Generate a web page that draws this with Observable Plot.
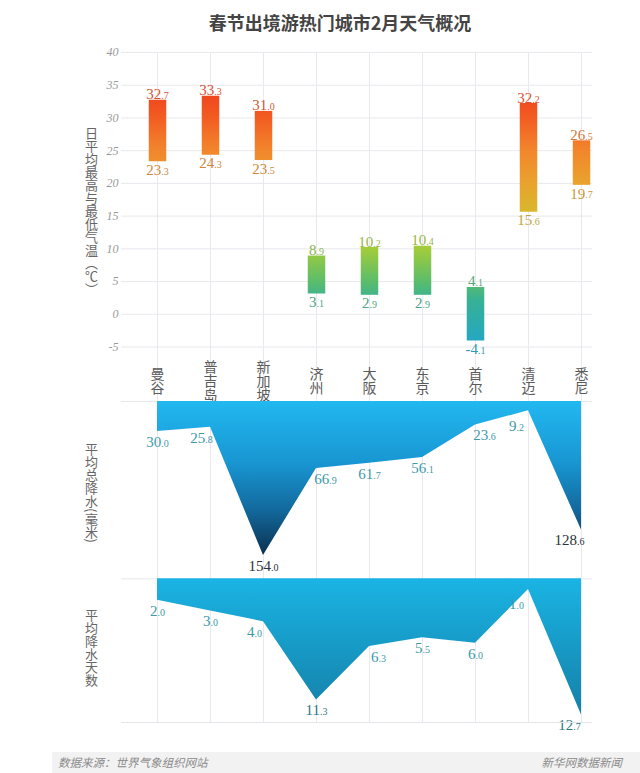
<!DOCTYPE html>
<html>
<head>
<meta charset="utf-8">
<script src="https://cdn.jsdelivr.net/npm/d3@7"></script>
<script src="https://cdn.jsdelivr.net/npm/@observablehq/plot@0.6"></script>
<style>
  body { margin: 0; background: #fff; }
  #page { position: relative; width: 640px; height: 773px; overflow: hidden; background: #fff; font-family: "Noto Sans CJK SC", sans-serif; }
  .abs { position: absolute; }
  #title { top: 10px; left: 40px; width: 600px; text-align: center; font-size: 18px; font-weight: bold; color: #444; line-height: 24px; }
  .vt { writing-mode: vertical-rl; text-orientation: mixed; left: 84px; font-size: 13px; color: #666; line-height: 15px; }
  #page svg { overflow: visible; }
  #p1 [aria-label^="y-axis"] text { font-family: "Liberation Serif", serif; font-style: italic; font-size: 12px; fill: #9a9a9a; }
  #bottomline { top: 722px; left: 121px; width: 471px; height: 1px; background: #e4e4ea; }
  #footer { left: 52px; top: 752px; width: 588px; height: 21px; background: #f2f2f2; }
  .foot { top: 754px; font-size: 11.5px; font-style: italic; color: #8a8a8a; line-height: 17px; }
</style>
</head>
<body>
<div id="page">
  <div id="title" class="abs">春节出境游热门城市2月天气概况</div>
  <div id="p1" class="abs" style="top:40px;left:0"></div>
  <div id="p2" class="abs" style="top:396px;left:0"></div>
  <div id="p3" class="abs" style="top:575px;left:0"></div>
  <div id="bottomline" class="abs"></div>
  <div id="footer" class="abs"></div>
  <div class="abs foot" style="left:58px">数据来源：世界气象组织网站</div>
  <div class="abs foot" style="right:18px">新华网数据新闻</div>
</div>
<script>
// ---------- data ----------
const cities    = ["曼谷", "普吉岛", "新加坡", "济州", "大阪", "东京", "首尔", "清迈", "悉尼"];
const tempHigh  = [32.7, 33.3, 31.0, 8.9, 10.2, 10.4, 4.1, 32.2, 26.5];
const tempLow   = [23.3, 24.3, 23.5, 3.1, 2.9, 2.9, -4.1, 15.6, 19.7];
const precip    = [30.0, 25.8, 154.0, 66.9, 61.7, 56.1, 23.6, 9.2, 128.6];
const rainDays  = [2.0, 3.0, 4.0, 11.3, 6.3, 5.5, 6.0, 1.0, 12.7];
const tempTicks = [-5, 0, 5, 10, 15, 20, 25, 30, 35, 40];
const axisTitles = ["日平均最高与最低气温（℃）", "平均总降水(毫米)", "平均降水天数"];

// ---------- styles ----------
const tempStops  = [-5, 2, 5, 10, 15, 20, 25, 30, 35];
const tempColors = ["#22a6c8", "#36b196", "#5cbd6a", "#a2cc3a", "#d6ba2c", "#e9a22e", "#f2862c", "#f25c22", "#ee3c1c"];
const tempColor = d3.scaleLinear().domain(tempStops).range(tempColors).interpolate(d3.interpolateRgb).clamp(true);
const labelColor = v => d3.interpolateRgb(tempColor(v), "#6a6a6a")(0.22);

const ns = "http://www.w3.org/2000/svg";
const W = 640, ML = 157, MR = 59;
const gridColor = "#e8e8ee";
const serif = "Liberation Serif, serif";
const xOpt = {type: "point", domain: cities, padding: 0, axis: null};

// vertical axis titles
function vtitle(text, top) {
  const d = document.createElement("div");
  d.className = "abs vt";
  d.style.top = top + "px";
  d.textContent = text;
  document.getElementById("page").appendChild(d);
}
vtitle(axisTitles[0], 127);
vtitle(axisTitles[1], 443);
vtitle(axisTitles[2], 609);

function addGrad(svg, id, attrs, stops) {
  let defs = svg.querySelector("defs");
  if (!defs) { defs = document.createElementNS(ns, "defs"); svg.insertBefore(defs, svg.firstChild); }
  const g = document.createElementNS(ns, "linearGradient");
  g.setAttribute("id", id);
  for (const [k, v] of Object.entries(attrs)) g.setAttribute(k, v);
  for (const [o, c] of stops) {
    const s = document.createElementNS(ns, "stop");
    s.setAttribute("offset", o);
    s.setAttribute("stop-color", c);
    g.appendChild(s);
  }
  defs.appendChild(g);
}
// draw the decimal part of value labels smaller
function splitDecimals(svg) {
  svg.querySelectorAll("text").forEach(t => {
    const s = t.textContent;
    if (!/^-?\d+\.\d$/.test(s) || t.querySelector("tspan")) return;
    const i = s.indexOf(".");
    t.textContent = s.slice(0, i);
    const ts = document.createElementNS(ns, "tspan");
    ts.setAttribute("font-size", "10");
    ts.textContent = s.slice(i);
    t.appendChild(ts);
  });
}
// which side of the point a label should go so the area does not cover it
function labelSides(vals, pxPerUnit) {
  const thr = 3 / (12 / 53 * pxPerUnit);
  return vals.map((v, i) => {
    const dl = i > 0 ? vals[i - 1] - v : -Infinity;
    const dr = i < vals.length - 1 ? vals[i + 1] - v : -Infinity;
    const L = dl > thr, R = dr > thr;
    if (L && R) return dl < dr ? "both-left" : "both-right";
    if (R) return "left";
    if (L) return "right";
    if (i === vals.length - 1) return "edge-left";
    return "center";
  });
}
function sideLabels(rows, fill) {
  const base = {x: "city", y: "v", text: d => d.v.toFixed(1), lineAnchor: "middle",
    fill, fontSize: 15, fontFamily: serif};
  return [
    Plot.text(rows.filter(d => d.side === "center"), {...base, dy: 10.5}),
    Plot.text(rows.filter(d => d.side === "left"), {...base, dx: -9, dy: 10.5}),
    Plot.text(rows.filter(d => d.side === "right"), {...base, dx: 9, dy: 10.5}),
    Plot.text(rows.filter(d => d.side === "both-left"), {...base, dx: -12, dy: 15}),
    Plot.text(rows.filter(d => d.side === "both-right"), {...base, dx: 12, dy: 15}),
    Plot.text(rows.filter(d => d.side === "edge-left"), {...base, dx: -12, dy: 10})
  ];
}

// ---------- panel 1: temperatures ----------
const temps = cities.map((c, i) => ({city: c, hi: tempHigh[i], lo: tempLow[i]}));
const p1 = Plot.plot({
  width: W, height: 370,
  marginTop: 12, marginBottom: 63.5, marginLeft: ML, marginRight: MR,
  style: {background: "transparent", overflow: "visible", fontFamily: "Noto Sans CJK SC, sans-serif"},
  x: xOpt,
  y: {domain: [-5, 40], ticks: tempTicks, tickSize: 0, tickPadding: 39, tickFormat: d => String(d), label: null},
  marks: [
    Plot.ruleY(tempTicks, {stroke: gridColor, insetLeft: -36, insetRight: -11}),
    Plot.ruleX(cities, {stroke: gridColor, insetBottom: -54.5}),
    Plot.ruleX(temps, {x: "city", y1: "lo", y2: "hi", stroke: "url(#tempGrad)", strokeWidth: 17.5}),
    Plot.text(temps, {x: "city", y: "hi", text: d => d.hi.toFixed(1), lineAnchor: "bottom", dy: -1,
      fill: d => labelColor(d.hi), fontSize: 15, fontFamily: serif}),
    Plot.text(temps, {x: "city", y: "lo", text: d => d.lo.toFixed(1), lineAnchor: "top", dy: 2.5,
      fill: d => labelColor(d.lo), fontSize: 15, fontFamily: serif}),
    // category labels, set vertically below
    Plot.text(cities, {x: d => d, text: d => d, frameAnchor: "bottom", dy: 33.5,
      lineAnchor: "bottom", fontSize: 14, fill: "#5a5a5a"})
  ]
});
{
  const y = p1.scale("y");
  const lo = tempStops[0], hi = tempStops[tempStops.length - 1];
  addGrad(p1, "tempGrad",
    {gradientUnits: "userSpaceOnUse", x1: 0, x2: 0, y1: y.apply(lo), y2: y.apply(hi)},
    tempStops.map((t, i) => [(t - lo) / (hi - lo), tempColors[i]]));
}
p1.querySelectorAll("text").forEach(t => {
  if (cities.includes(t.textContent)) {
    t.style.writingMode = "vertical-rl";
    t.setAttribute("text-anchor", "middle");
  }
});
splitDecimals(p1);
document.getElementById("p1").appendChild(p1);

// ---------- panel 2: precipitation ----------
const precipSides = labelSides(precip, 1.0);
const precipRows = cities.map((c, i) => ({city: c, v: precip[i], side: precipSides[i]}));
const p2 = Plot.plot({
  width: W, height: 184,
  marginTop: 5, marginBottom: 25, marginLeft: ML, marginRight: MR,
  style: {background: "transparent", overflow: "visible", fontFamily: "Noto Sans CJK SC, sans-serif"},
  x: xOpt,
  y: {domain: [0, d3.max(precip)], reverse: true, axis: null},
  marks: [
    Plot.ruleX(cities, {stroke: gridColor, insetBottom: -23}),
    Plot.ruleY([0], {stroke: gridColor, insetLeft: -36, insetRight: -11}),
    Plot.areaY(precipRows, {x: "city", y: "v", fill: "url(#precipGrad)"}),
    ...sideLabels(precipRows, d => d.v > 100 ? "#28343a" : "#3d9aa8")
  ]
});
addGrad(p2, "precipGrad", {x1: 0, x2: 0, y1: 0, y2: 1},
  [[0, "#22b8f0"], [0.4, "#1896d2"], [0.7, "#136a9e"], [1, "#0b3050"]]);
splitDecimals(p2);
document.getElementById("p2").appendChild(p2);

// ---------- panel 3: rainy days ----------
const daySides = labelSides(rainDays, 10.7);
const dayRows = cities.map((c, i) => ({city: c, v: rainDays[i], side: daySides[i]}));
const p3 = Plot.plot({
  width: W, height: 150,
  marginTop: 3.3, marginBottom: 10.4, marginLeft: ML, marginRight: MR,
  style: {background: "transparent", overflow: "visible", fontFamily: "Noto Sans CJK SC, sans-serif"},
  x: xOpt,
  y: {domain: [0, d3.max(rainDays)], reverse: true, axis: null},
  marks: [
    Plot.ruleX(cities, {stroke: gridColor, insetBottom: -7.4}),
    Plot.ruleY([0], {stroke: gridColor, insetLeft: -36, insetRight: -11}),
    Plot.areaY(dayRows, {x: "city", y: "v", fill: "url(#daysGrad)"}),
    ...sideLabels(dayRows, d => d.v > 10 ? "#2f7a84" : "#3d9aa8")
  ]
});
addGrad(p3, "daysGrad", {x1: 0, x2: 0, y1: 0, y2: 1},
  [[0, "#1ab4e4"], [1, "#1480a8"]]);
splitDecimals(p3);
document.getElementById("p3").appendChild(p3);
</script>
</body>
</html>
